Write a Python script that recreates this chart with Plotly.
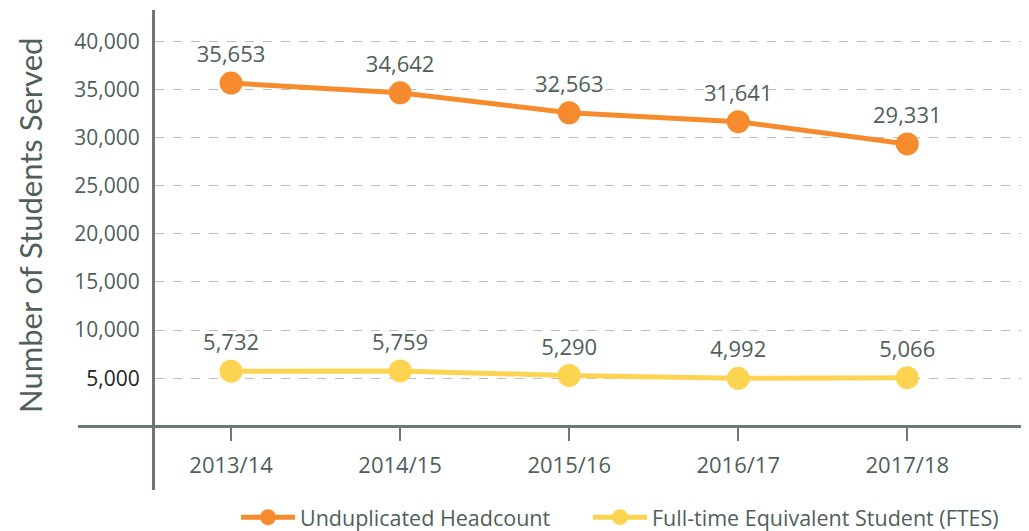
import plotly.graph_objects as go

years = ["2013/14", "2014/15", "2015/16", "2016/17", "2017/18"]
headcount = [35653, 34642, 32563, 31641, 29331]
ftes = [5732, 5759, 5290, 4992, 5066]
y_ticks = [5000, 10000, 15000, 20000, 25000, 30000, 35000, 40000]

TEXT = "#4f5f59"
AXIS = "#6e7873"
FONT = "'Open Sans', Lato, sans-serif"
TITLE_FONT = "Lato, 'Open Sans', sans-serif"

fig = go.Figure()
fig.add_trace(go.Scatter(
    x=years, y=headcount, name="Unduplicated Headcount",
    mode="lines+markers+text",
    line=dict(color="#f68b2d", width=5),
    marker=dict(color="#f68b2d", size=23),
    text=[f"{v:,}" for v in headcount], textposition="top center",
    textfont=dict(size=22, color=TEXT, family=FONT),
    cliponaxis=False, legend="legend",
))
fig.add_trace(go.Scatter(
    x=years, y=ftes, name="Full-time Equivalent Student (FTES)",
    mode="lines+markers+text",
    line=dict(color="#fdd451", width=5),
    marker=dict(color="#fdd451", size=23),
    text=[f"{v:,}" for v in ftes], textposition="top center",
    textfont=dict(size=22, color=TEXT, family=FONT),
    cliponaxis=False, legend="legend2",
))

tick_text = [f"{v:,}" for v in y_ticks]
tick_text[0] = "<span style='fill:#222'>" + tick_text[0] + "</span>"

legend_common = dict(orientation="h", xanchor="left", y=-0.014, yanchor="top",
                     font=dict(size=21.5, color=TEXT, family=FONT), itemwidth=54,
                     bgcolor="rgba(0,0,0,0)")

fig.update_layout(
    width=1021, height=523,
    margin=dict(l=147, r=0, t=2, b=41, autoexpand=False),
    paper_bgcolor="white", plot_bgcolor="white",
    font=dict(family=FONT, color=TEXT, size=19),
    showlegend=True,
    legend=dict(x=(236 - 155) / 874, **legend_common),
    legend2=dict(x=(588 - 155) / 874, **legend_common),
    xaxis=dict(
        type="category", range=[-0.45, 4.72], automargin=False,
        anchor="free", position=(490 - 426.4) / 480,
        showline=False, showgrid=False, zeroline=False,
        ticks="outside", ticklen=14, tickwidth=1.5, tickcolor=AXIS,
        tickfont=dict(size=22, color=TEXT, family=FONT), ticklabelstandoff=5,
    ),
    yaxis=dict(
        range=[-6600, 43240], automargin=False,
        tickvals=y_ticks, ticktext=tick_text,
        showgrid=True, gridcolor="#bdbdbd", gridwidth=1.3, griddash="dash",
        zeroline=False, showline=True, linecolor=AXIS, linewidth=3,
        ticks="", ticklabelstandoff=8,
        tickfont=dict(size=21, color=TEXT, family=FONT),
    ),
)

fig.add_annotation(
    text="Number of Students Served", textangle=-90,
    xref="paper", yref="paper", x=(30 - 155) / 874, y=(490 - 226) / 480,
    xanchor="center", yanchor="middle", showarrow=False,
    font=dict(size=31, color=TEXT, family=TITLE_FONT),
)

fig.add_shape(type="line", xref="paper", yref="y",
              x0=(78 - 155) / 874, x1=1, y0=0, y1=0,
              line=dict(color=AXIS, width=3), layer="above")

fig.write_html("out.html")
